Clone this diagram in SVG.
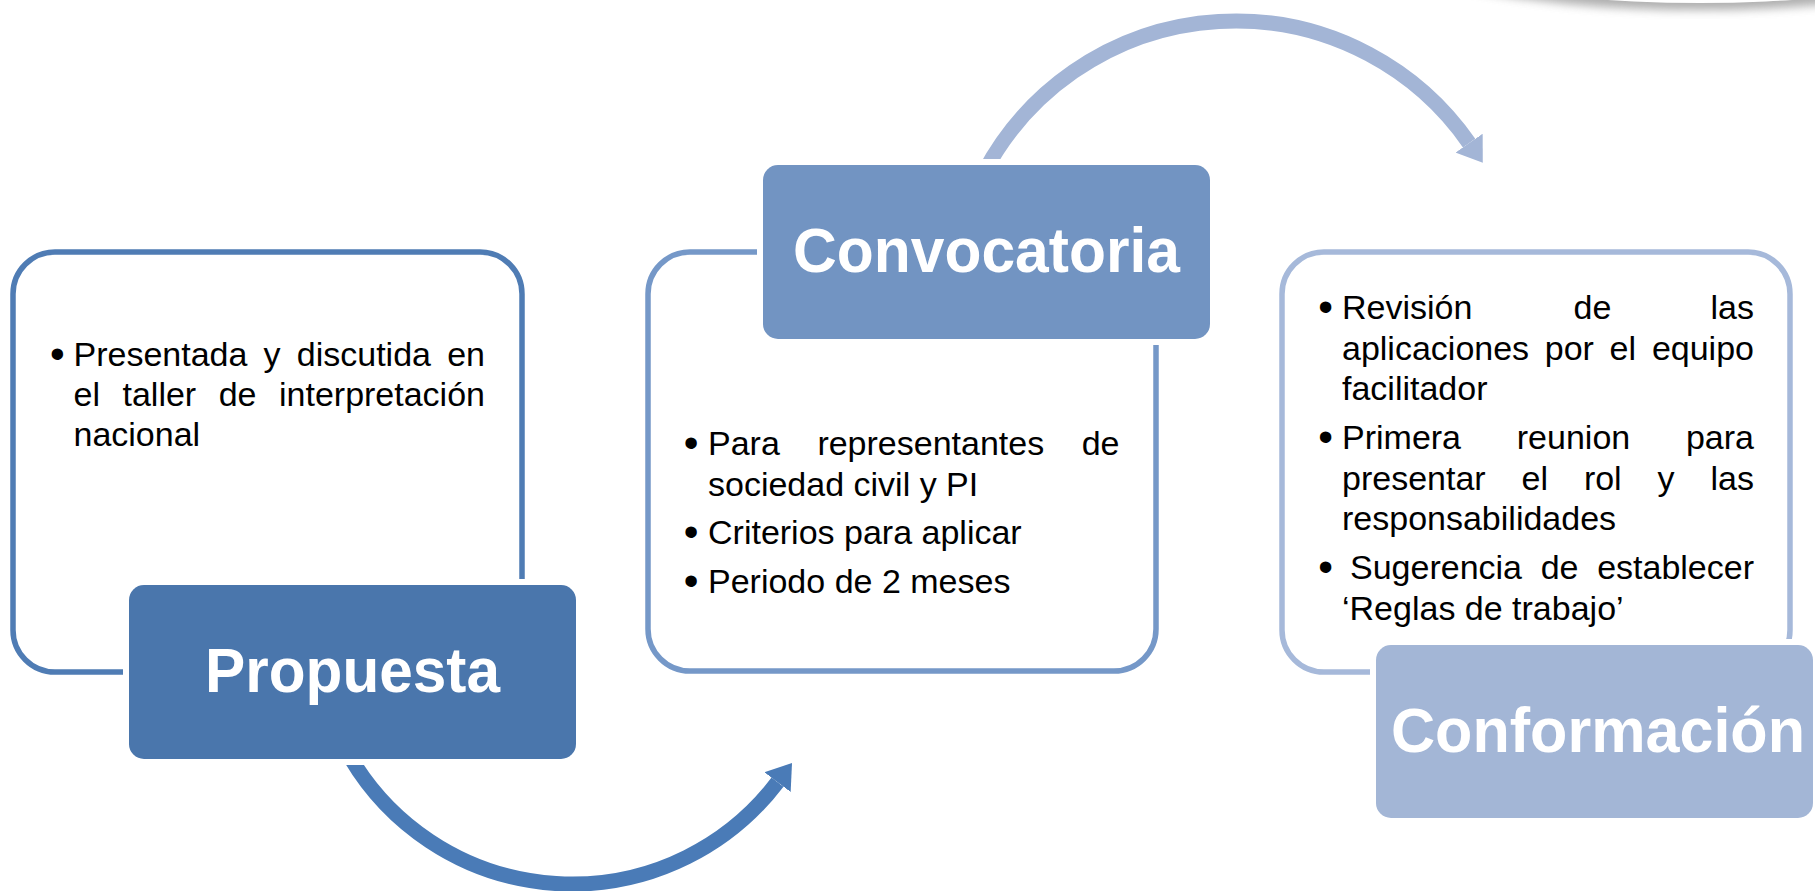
<svg xmlns="http://www.w3.org/2000/svg" width="1815" height="891" viewBox="0 0 1815 891">
<style>
.outline{fill:none;stroke-width:5.5}
.tbox{stroke:#fff;stroke-width:12;paint-order:stroke}
.title{font-family:"Liberation Sans",Arial,sans-serif;font-weight:bold;font-size:63px;fill:#fff;text-anchor:middle}
.body{font-family:"Liberation Sans",Arial,sans-serif;font-size:34px;fill:#000}
.bul{font-family:"Liberation Sans",Arial,sans-serif;font-size:42px;fill:#000;text-anchor:middle}
.end{text-anchor:end}
.arrow{fill:none;stroke-width:15}
</style>
<defs>
<filter id="blur" x="-20%" y="-60%" width="140%" height="220%"><feGaussianBlur stdDeviation="5"/></filter>
<marker id="headDark" markerUnits="userSpaceOnUse" viewBox="0 -17 25 34" refX="0" refY="0" markerWidth="25" markerHeight="34" orient="auto"><path d="M0,-16.5 L24,0 L0,16.5 Z" fill="#4A7BB7"/></marker>
<marker id="headLight" markerUnits="userSpaceOnUse" viewBox="0 -17 25 34" refX="0" refY="0" markerWidth="25" markerHeight="34" orient="auto"><path d="M0,-16.5 L24,0 L0,16.5 Z" fill="#A3B5D6"/></marker>
</defs>
<rect width="1815" height="891" fill="#fff"/>
<g id="shadow">
<ellipse cx="1700" cy="-70" rx="345" ry="80" fill="#7a7a7a" opacity="0.6" filter="url(#blur)"/>
<ellipse cx="1700" cy="-77" rx="340" ry="80" fill="#fff"/>
</g>
<g id="connectors">
<path class="arrow" stroke="#4A7BB7" d="M349,755.2 A257.7,257.7 0 0 0 777.5,782.1" marker-end="url(#headDark)"/>
<path class="arrow" stroke="#A3B5D6" d="M984.3,171.9 A284.5,284.5 0 0 1 1469.1,143.1" marker-end="url(#headLight)"/>
</g>
<g id="node-propuesta">
<rect class="outline" stroke="#4F7CB4" x="13" y="252" width="509" height="420" rx="42"/>
<rect class="tbox" fill="#4A76AC" x="129" y="585" width="447" height="174" rx="15"/>
<text class="title" x="352.5" y="692" textLength="295" lengthAdjust="spacingAndGlyphs">Propuesta</text>
<text class="bul" x="57.4" y="368">•</text>
<text class="body" y="366"><tspan x="73.5">Presentada</tspan><tspan x="263.6">y</tspan><tspan x="296.8">discutida</tspan></text>
<text class="body end" x="485" y="366">en</text>
<text class="body" y="406"><tspan x="73.5">el</tspan><tspan x="122.5">taller</tspan><tspan x="218.7">de</tspan></text>
<text class="body end" x="485" y="406">interpretación</text>
<text class="body" x="73.5" y="446">nacional</text>
</g>
<g id="node-convocatoria">
<rect class="outline" stroke="#7598C8" x="648" y="252" width="508" height="419" rx="42"/>
<rect class="tbox" fill="#7294C2" x="763" y="165" width="447" height="174" rx="15"/>
<text class="title" x="986.5" y="272" textLength="387" lengthAdjust="spacingAndGlyphs">Convocatoria</text>
<text class="bul" x="691" y="457">•</text>
<text class="body" y="455"><tspan x="708">Para</tspan><tspan x="817.4">representantes</tspan></text>
<text class="body end" x="1119.5" y="455">de</text>
<text class="body" x="708" y="496">sociedad civil y PI</text>
<text class="bul" x="691" y="546">•</text>
<text class="body" x="708" y="544">Criterios para aplicar</text>
<text class="bul" x="691" y="595">•</text>
<text class="body" x="708" y="593">Periodo de 2 meses</text>
</g>
<g id="node-conformacion">
<rect class="outline" stroke="#A6B9DA" x="1282" y="252" width="508" height="420" rx="42"/>
<rect class="tbox" fill="#A3B6D6" x="1376" y="645" width="437" height="173" rx="15"/>
<text class="title" x="1598" y="752" textLength="414" lengthAdjust="spacingAndGlyphs">Conformación</text>
<text class="bul" x="1325.5" y="321">•</text>
<text class="body" y="319"><tspan x="1342">Revisión</tspan><tspan x="1573.5">de</tspan></text>
<text class="body end" x="1754" y="319">las</text>
<text class="body" y="360"><tspan x="1342">aplicaciones</tspan><tspan x="1544.8">por</tspan><tspan x="1609.6">el</tspan></text>
<text class="body end" x="1754" y="360">equipo</text>
<text class="body" x="1342" y="400">facilitador</text>
<text class="bul" x="1325.5" y="451">•</text>
<text class="body" y="449"><tspan x="1342">Primera</tspan><tspan x="1516.8">reunion</tspan></text>
<text class="body end" x="1754" y="449">para</text>
<text class="body" y="490"><tspan x="1342">presentar</tspan><tspan x="1521.5">el</tspan><tspan x="1583.9">rol</tspan><tspan x="1657.6">y</tspan></text>
<text class="body end" x="1754" y="490">las</text>
<text class="body" x="1342" y="530">responsabilidades</text>
<text class="bul" x="1325.5" y="581">•</text>
<text class="body" y="579"><tspan x="1350">Sugerencia</tspan><tspan x="1540.7">de</tspan></text>
<text class="body end" x="1754" y="579">establecer</text>
<text class="body" x="1342" y="620">‘Reglas de trabajo’</text>
</g>
</svg>
